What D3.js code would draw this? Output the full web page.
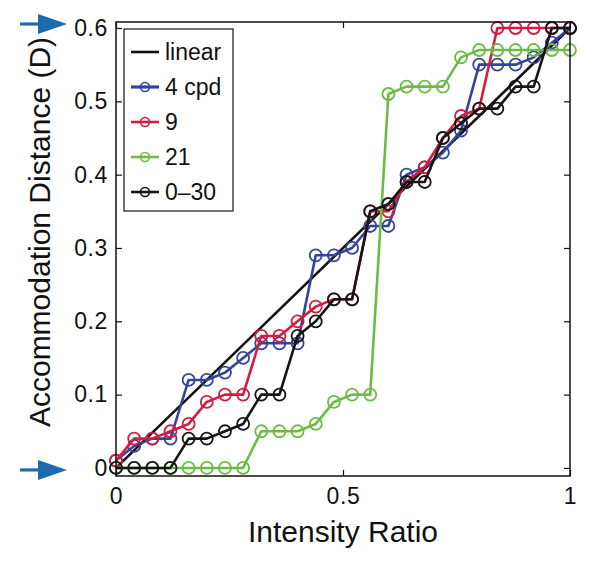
<!DOCTYPE html>
<html><head><meta charset="utf-8">
<script src="https://cdn.jsdelivr.net/npm/d3@7"></script>
<style>body{margin:0;background:#fff}svg{display:block}text{font-family:"Liberation Sans",Arial,Helvetica,sans-serif;fill:#111}</style>
</head><body>
<svg id="c" width="593" height="563"></svg>
<script>
const intensity = [0,0.04,0.08,0.12,0.16,0.20,0.24,0.28,0.32,0.36,0.40,0.44,0.48,0.52,0.56,0.60,0.64,0.68,0.72,0.76,0.80,0.84,0.88,0.92,0.96,1.00];
const cpd4  = [0.01,0.03,0.04,0.04,0.12,0.12,0.13,0.15,0.17,0.17,0.17,0.29,0.29,0.30,0.33,0.33,0.40,0.41,0.43,0.46,0.55,0.55,0.55,0.56,0.58,0.60];
const cpd9  = [0.01,0.04,0.04,0.05,0.06,0.09,0.10,0.10,0.18,0.18,0.20,0.22,0.23,0.23,0.35,0.35,0.39,0.41,0.45,0.48,0.49,0.60,0.60,0.60,0.60,0.60];
const cpd21 = [0,0,0,0,0,0,0,0,0.05,0.05,0.05,0.06,0.09,0.10,0.10,0.51,0.52,0.52,0.52,0.56,0.57,0.57,0.57,0.57,0.57,0.57];
const cpd0_30 = [0,0,0,0,0.04,0.04,0.05,0.06,0.10,0.10,0.18,0.20,0.23,0.23,0.35,0.36,0.39,0.39,0.45,0.47,0.49,0.49,0.52,0.52,0.60,0.60];
const linearX = [0,1];
const linearY = [0,0.6];
const seriesNames = ["4 cpd","9","21","0\u201330"];
const seriesColors = ["#34449a","#d41c40","#6cbb46","#151515"];
const xTicks = [0,0.5,1];
const xTickLabels = ["0","0.5","1"];
const yTicks = [0,0.1,0.2,0.3,0.4,0.5,0.6];
const yTickLabels = ["0","0.1","0.2","0.3","0.4","0.5","0.6"];

const svg = d3.select("#c");
const L=116, R=570, T=22, B=476;
const x = d3.scaleLinear().domain([0,1]).range([L,R]);
const y = d3.scaleLinear().domain([-0.011,0.6082]).range([B,T]);

svg.append("rect").attr("width",593).attr("height",563).attr("fill","#fff");

// data series
const lineGen = d3.line().x(d=>x(d[0])).y(d=>y(d[1]));
svg.append("path").datum(linearX.map((v,i)=>[v,linearY[i]]))
  .attr("d",lineGen).attr("fill","none").attr("stroke","#111").attr("stroke-width",2.6);

const allSeries=[cpd4,cpd9,cpd21,cpd0_30];
allSeries.forEach((vals,k)=>{
  const pts = intensity.map((v,i)=>[v,vals[i]]);
  const g = svg.append("g");
  g.append("path").datum(pts).attr("d",lineGen).attr("fill","none")
    .attr("stroke",seriesColors[k]).attr("stroke-width",2.6).attr("stroke-linejoin","round");
  g.selectAll("circle").data(pts).join("circle")
    .attr("cx",d=>x(d[0])).attr("cy",d=>y(d[1])).attr("r",6)
    .attr("fill","none").attr("stroke",seriesColors[k]).attr("stroke-width",1.8);
});

// axes box
svg.append("rect").attr("x",L).attr("y",T).attr("width",R-L).attr("height",B-T)
  .attr("fill","none").attr("stroke","#111").attr("stroke-width",1.5);

const tl=6;
const axB = svg.append("g").attr("transform",`translate(0,${B})`)
  .call(d3.axisBottom(x).tickValues(xTicks).tickSize(-tl).tickFormat((d,i)=>xTickLabels[i]).tickPadding(12));
const axT = svg.append("g").attr("transform",`translate(0,${T})`)
  .call(d3.axisTop(x).tickValues(xTicks).tickSize(-tl).tickFormat(""));
const axL = svg.append("g").attr("transform",`translate(${L},0)`)
  .call(d3.axisLeft(y).tickValues(yTicks).tickSize(-tl).tickFormat((d,i)=>yTickLabels[i]).tickPadding(8));
const axR = svg.append("g").attr("transform",`translate(${R},0)`)
  .call(d3.axisRight(y).tickValues(yTicks).tickSize(-tl).tickFormat(""));
[axB,axT,axL,axR].forEach(a=>{
  a.select(".domain").remove();
  a.selectAll(".tick line").attr("stroke","#111").attr("stroke-width",1.2);
  a.selectAll("text").attr("font-size",23).attr("letter-spacing","0.6px").attr("fill","#111").style("font-family","Liberation Sans, Arial, sans-serif");
});
axB.selectAll("text").attr("dy","0.71em");

// titles
svg.append("text").attr("x",(L+R)/2).attr("y",542).attr("text-anchor","middle")
  .attr("font-size",30).text("Intensity Ratio");
svg.append("text").attr("transform",`translate(50,${(T+B)/2-17}) rotate(-90)`).attr("text-anchor","middle")
  .attr("font-size",30).text("Accommodation Distance (D)");

// arrows
const arrowColor="#1b6cab";
[[0.6,-4],[0,2]].forEach(([v,off])=>{
  const ay=y(v)+off;
  const g=svg.append("g");
  g.append("line").attr("x1",20).attr("x2",44).attr("y1",ay).attr("y2",ay).attr("stroke",arrowColor).attr("stroke-width",3.2);
  g.append("path").attr("d",`M38,${ay-10}L67,${ay}L38,${ay+10}Z`).attr("fill",arrowColor);
});

// legend
const lg = svg.append("g");
lg.append("rect").attr("x",124).attr("y",29).attr("width",109).attr("height",182)
  .attr("fill","#fff").attr("stroke","#111").attr("stroke-width",1.2);
const legNames=["linear"].concat(seriesNames);
const legColors=["#111"].concat(seriesColors);
legNames.forEach((n,i)=>{
  const ly=52+i*35;
  lg.append("line").attr("x1",131).attr("x2",159).attr("y1",ly).attr("y2",ly)
    .attr("stroke",legColors[i]).attr("stroke-width",i===1?3.2:2.6);
  if(i>0) lg.append("circle").attr("cx",145).attr("cy",ly).attr("r",4.5)
    .attr("fill","none").attr("stroke",legColors[i]).attr("stroke-width",1.6);
  lg.append("text").attr("x",165).attr("y",ly).attr("dy","0.36em").attr("font-size",23).text(n);
});
</script>
</body></html>
